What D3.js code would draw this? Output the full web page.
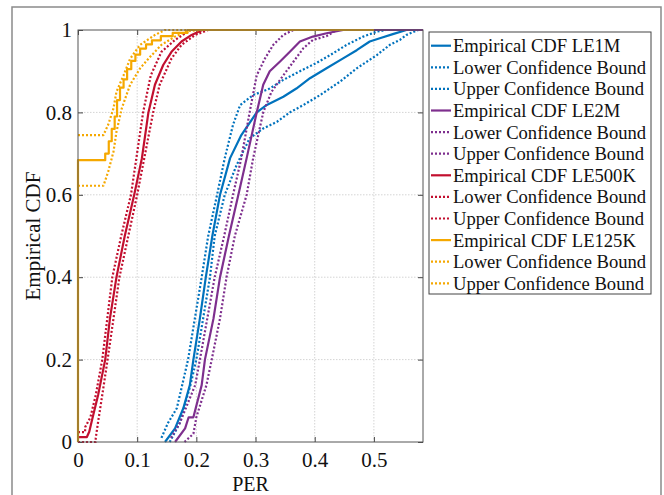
<!DOCTYPE html>
<html>
<head>
<meta charset="utf-8">
<script src="https://cdn.jsdelivr.net/npm/d3@7"></script>
<style>
  html, body { margin: 0; padding: 0; background: #fff; }
  svg { display: block; }
  text { font-family: "Liberation Serif", "Times New Roman", serif; fill: #111; }
</style>
</head>
<body>
<svg id="chart" width="664" height="495"></svg>
<script>
// ---------------- DATA (PER value, CDF value) ----------------
const xTicks = [0, 0.1, 0.2, 0.3, 0.4, 0.5];
const yTicks = [0, 0.2, 0.4, 0.6, 0.8, 1];
const xMax = 0.583;

const le1mCdf = [[0.147,0],[0.164,0.033],[0.178,0.082],[0.189,0.138],[0.195,0.2],[0.206,0.3],[0.216,0.4],[0.227,0.5],[0.24,0.6],[0.257,0.689],[0.276,0.745],[0.302,0.8],[0.319,0.818],[0.347,0.838],[0.369,0.858],[0.392,0.883],[0.42,0.907],[0.448,0.931],[0.471,0.951],[0.493,0.972],[0.51,0.98],[0.532,0.99],[0.555,1],[0.583,1]];
const le1mLower = [[0.155,0],[0.172,0.046],[0.19,0.138],[0.2,0.2],[0.223,0.4],[0.231,0.5],[0.248,0.6],[0.268,0.672],[0.29,0.737],[0.313,0.761],[0.336,0.777],[0.358,0.8],[0.381,0.818],[0.409,0.842],[0.443,0.875],[0.471,0.907],[0.505,0.939],[0.527,0.964],[0.544,0.976],[0.555,0.988],[0.575,1],[0.583,1]];
const le1mUpper = [[0.141,0.01],[0.152,0.046],[0.167,0.082],[0.186,0.2],[0.209,0.4],[0.22,0.5],[0.235,0.6],[0.248,0.689],[0.262,0.77],[0.274,0.818],[0.296,0.842],[0.324,0.858],[0.347,0.879],[0.375,0.9],[0.403,0.92],[0.426,0.939],[0.454,0.964],[0.482,0.984],[0.505,0.996],[0.52,1],[0.583,1]];

const le2mCdf = [[0.164,0],[0.181,0.033],[0.187,0.06],[0.195,0.06],[0.209,0.138],[0.2145,0.2],[0.229,0.3],[0.24,0.4],[0.255,0.5],[0.271,0.6],[0.285,0.689],[0.302,0.8],[0.313,0.867],[0.324,0.9],[0.341,0.923],[0.358,0.947],[0.375,0.972],[0.397,0.984],[0.42,0.992],[0.448,1],[0.583,1]];
const le2mLower = [[0.18,0],[0.195,0.02],[0.2,0.06],[0.217,0.138],[0.226,0.2],[0.24,0.3],[0.251,0.4],[0.265,0.5],[0.285,0.6],[0.296,0.689],[0.313,0.8],[0.327,0.85],[0.347,0.89],[0.364,0.923],[0.381,0.956],[0.397,0.976],[0.42,0.985],[0.437,1],[0.583,1]];
const le2mUpper = [[0.157,0.01],[0.172,0.046],[0.198,0.138],[0.206,0.2],[0.231,0.4],[0.247,0.5],[0.262,0.6],[0.276,0.689],[0.29,0.8],[0.302,0.89],[0.316,0.931],[0.33,0.964],[0.347,0.988],[0.364,1],[0.583,1]];

const le500kCdf = [[0,0.012],[0.015,0.012],[0.019,0.025],[0.023,0.049],[0.034,0.114],[0.046,0.2],[0.054,0.3],[0.065,0.4],[0.079,0.5],[0.095,0.6],[0.108,0.689],[0.119,0.8],[0.13,0.867],[0.144,0.915],[0.158,0.947],[0.175,0.972],[0.192,0.988],[0.21,1],[0.45,1]];
const le500kLower = [[0,0],[0.03,0],[0.03,0.01],[0.034,0.049],[0.041,0.114],[0.05,0.2],[0.07,0.4],[0.085,0.5],[0.1,0.6],[0.127,0.8],[0.138,0.867],[0.158,0.931],[0.175,0.964],[0.198,0.988],[0.22,1],[0.45,1]];
const le500kUpper = [[0,0.024],[0.012,0.024],[0.012,0.036],[0.021,0.06],[0.03,0.114],[0.041,0.2],[0.058,0.4],[0.073,0.5],[0.0895,0.6],[0.11,0.8],[0.123,0.89],[0.141,0.947],[0.164,0.976],[0.19,1],[0.45,1]];

const le125kCdf = [[0,0],[0,0.684],[0.046,0.684],[0.046,0.70],[0.052,0.70],[0.052,0.73],[0.057,0.73],[0.057,0.76],[0.062,0.76],[0.062,0.79],[0.066,0.79],[0.066,0.83],[0.071,0.83],[0.071,0.86],[0.077,0.86],[0.077,0.88],[0.083,0.88],[0.083,0.905],[0.09,0.905],[0.09,0.925],[0.097,0.925],[0.097,0.94],[0.105,0.94],[0.105,0.955],[0.115,0.955],[0.115,0.965],[0.125,0.965],[0.125,0.975],[0.14,0.975],[0.14,0.985],[0.16,0.985],[0.16,0.993],[0.185,0.993],[0.185,1],[0.5,1]];
const le125kLower = [[0,0.622],[0.043,0.622],[0.051,0.656],[0.06,0.705],[0.065,0.753],[0.074,0.81],[0.088,0.867],[0.105,0.907],[0.122,0.935],[0.141,0.964],[0.164,0.984],[0.186,0.998],[0.21,1],[0.5,1]];
const le125kUpper = [[0,0.745],[0.043,0.745],[0.051,0.77],[0.06,0.81],[0.065,0.85],[0.077,0.89],[0.088,0.93],[0.105,0.964],[0.13,0.988],[0.147,1],[0.5,1]];

const seriesNames = ["LE1M", "LE2M", "LE500K", "LE125K"];
const seriesColors = ["#0072BD", "#7E2F8E", "#C20F2F", "#F5A800"];
const legendLabels = [
  "Empirical CDF LE1M", "Lower Confidence Bound", "Upper Confidence Bound",
  "Empirical CDF LE2M", "Lower Confidence Bound", "Upper Confidence Bound",
  "Empirical CDF LE500K", "Lower Confidence Bound", "Upper Confidence Bound",
  "Empirical CDF LE125K", "Lower Confidence Bound", "Upper Confidence Bound"
];

// ---------------- LAYOUT ----------------
const svg = d3.select("#chart");
const L = 78, R = 423, T = 30, B = 442;
const x = d3.scaleLinear().domain([0, xMax]).range([L, R]);
const y = d3.scaleLinear().domain([0, 1]).range([B, T]);

// outer figure frame
svg.append("rect").attr("x", 12).attr("y", 7).attr("width", 649).attr("height", 500)
  .attr("fill", "none").attr("stroke", "#8a8a8a").attr("stroke-width", 1.5);

// grid
const grid = svg.append("g");
grid.selectAll("line.gx").data(xTicks.slice(1)).join("line")
  .attr("x1", d => x(d)).attr("x2", d => x(d)).attr("y1", T).attr("y2", B)
  .attr("stroke", "#d4d4d4").attr("stroke-width", 1).attr("stroke-dasharray", "1.5,1.5");
grid.selectAll("line.gy").data(yTicks.slice(1, -1)).join("line")
  .attr("x1", L).attr("x2", R).attr("y1", d => y(d)).attr("y2", d => y(d))
  .attr("stroke", "#d4d4d4").attr("stroke-width", 1).attr("stroke-dasharray", "1.5,1.5");

// axes (inward ticks on all sides)
const fmt = d => (d === 0 ? "0" : d === 1 ? "1" : d3.format(".1f")(d));
const axB = svg.append("g").attr("transform", `translate(0,${B})`)
  .call(d3.axisBottom(x).tickValues(xTicks).tickFormat(fmt).tickSizeInner(-5).tickSizeOuter(0).tickPadding(10));
const axL = svg.append("g").attr("transform", `translate(${L},0)`)
  .call(d3.axisLeft(y).tickValues(yTicks).tickFormat(fmt).tickSizeInner(-5).tickSizeOuter(0).tickPadding(6));
const axT = svg.append("g").attr("transform", `translate(0,${T})`)
  .call(d3.axisTop(x).tickValues(xTicks).tickFormat("").tickSizeInner(-5).tickSizeOuter(0));
const axR = svg.append("g").attr("transform", `translate(${R},0)`)
  .call(d3.axisRight(y).tickValues(yTicks).tickFormat("").tickSizeInner(-5).tickSizeOuter(0));
[axB, axL, axT, axR].forEach(a => {
  a.select(".domain").remove();
  a.selectAll(".tick line").attr("stroke", "#444");
  a.selectAll("text").style("font-family", '"Liberation Serif", serif').style("font-size", "21px").attr("fill", "#111");
});

// curves
const line = d3.line().x(d => x(d[0])).y(d => y(d[1])).curve(d3.curveLinear);
const groups = [
  [le1mCdf, le1mLower, le1mUpper],
  [le2mCdf, le2mLower, le2mUpper],
  [le500kCdf, le500kLower, le500kUpper],
  [le125kCdf, le125kLower, le125kUpper]
];
const plot = svg.append("g");
groups.forEach((grp, gi) => {
  grp.forEach((data, k) => {
    plot.append("path").datum(data).attr("d", line)
      .attr("fill", "none").attr("stroke", seriesColors[gi])
      .attr("stroke-width", 2.2)
      .attr("stroke-linejoin", "round")
      .attr("stroke-dasharray", k === 0 ? null : "2,2");
  });
});

// axes box
svg.append("rect").attr("x", L).attr("y", T).attr("width", R - L).attr("height", B - T)
  .attr("fill", "none").attr("stroke", "#555").attr("stroke-width", 1);

// axis labels
svg.append("text").attr("x", (L + R) / 2).attr("y", 490.5).attr("text-anchor", "middle")
  .style("font-size", "20px").text("PER");
svg.append("text").attr("transform", `translate(40,${(T + B) / 2}) rotate(-90)`)
  .attr("text-anchor", "middle").style("font-size", "21px").text("Empirical CDF");

// legend
const lg = svg.append("g");
const lgX = 429, lgY = 32, lgW = 222, lgH = 262, rowH = 21.6, firstY = 45.7;
lg.append("rect").attr("x", lgX).attr("y", lgY).attr("width", lgW).attr("height", lgH)
  .attr("fill", "#fff").attr("stroke", "#444").attr("stroke-width", 1);
legendLabels.forEach((lab, i) => {
  const cy = firstY + i * rowH;
  const gi = Math.floor(i / 3);
  lg.append("line").attr("x1", 431).attr("x2", 451).attr("y1", cy).attr("y2", cy)
    .attr("stroke", seriesColors[gi]).attr("stroke-width", 2.2)
    .attr("stroke-dasharray", i % 3 === 0 ? null : "2,2");
  lg.append("text").attr("x", 453).attr("y", cy).attr("dy", "0.35em")
    .style("font-size", "18.6px").text(lab);
});
</script>
</body>
</html>
